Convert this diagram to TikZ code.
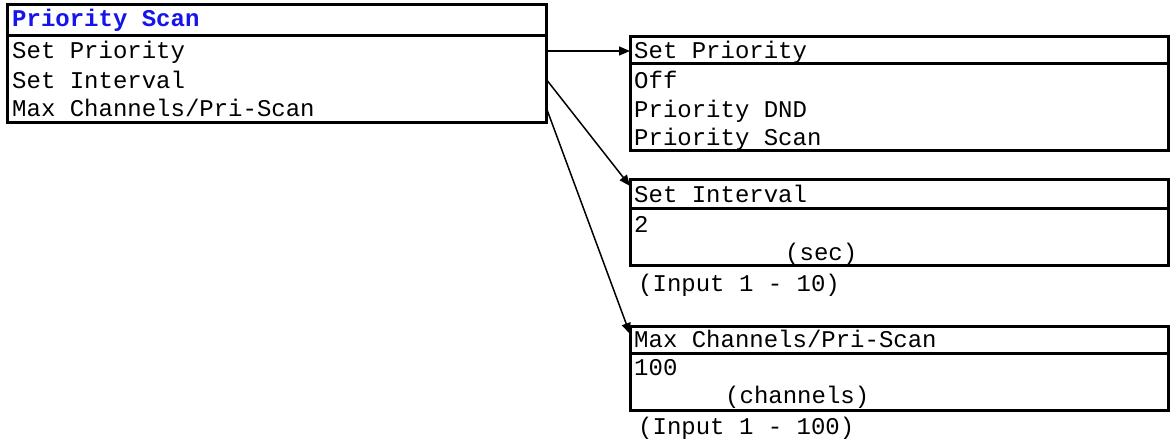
\documentclass[tikz,border=0pt]{standalone}
\usepackage{fontspec}
\newfontfamily\cour{Liberation Mono}
\usetikzlibrary{arrows.meta,calc}
\definecolor{titleblue}{RGB}{20,20,235}
\tikzset{
  box/.style={draw=black, line width=3pt, outer sep=0pt, inner sep=0pt, anchor=north west, fill=white},
  sep/.style={draw=black, line width=3pt},
  txt/.style={anchor=base west, inner sep=0pt, font=\cour\fontsize{24}{28}\selectfont},
  ttl/.style={txt, text=titleblue, font=\cour\bfseries\fontsize{24}{28}\selectfont},
  arr/.style={draw=black, line width=1.5pt, -{Triangle[length=11pt,width=9pt]}}
}
\begin{document}
\begin{tikzpicture}[x=1pt,y=-1pt]
\useasboundingbox (0,0) rectangle (1172,446);
% left menu box
\node[box, minimum width=539pt, minimum height=118pt] (L) at (7,5) {};
\draw[sep] (7,36) -- (546,36);
\node[ttl] (l0) at (12,27) {Priority Scan};
\node[txt] (l1) at (12,59) {Set Priority};
\node[txt] (l2) at (12,89) {Set Interval};
\node[txt] (l3) at (12,117) {Max Channels/Pri-Scan};
% box 1
\node[box, minimum width=538pt, minimum height=114pt] (B1) at (630,37) {};
\draw[sep] (630,64) -- (1168,64);
\node[txt] (b10) at (634,59) {Set Priority};
\node[txt] (b11) at (634,89) {Off};
\node[txt] (b12) at (634,118) {Priority DND};
\node[txt] (b13) at (634,146) {Priority Scan};
% box 2
\node[box, minimum width=538pt, minimum height=86pt] (B2) at (630,180) {};
\draw[sep] (630,209) -- (1168,209);
\node[txt] (b20) at (634,203) {Set Interval};
\node[txt] (b21) at (634,233) {2};
\node[txt] (b22) at (785,261) {(sec)};
\node[txt] (b23) at (638,291) {(Input 1 - 10)};
% box 3
\node[box, minimum width=538pt, minimum height=84pt] (B3) at (630,326) {};
\draw[sep] (630,353) -- (1168,353);
\node[txt] (b30) at (634,347) {Max Channels/Pri-Scan};
\node[txt] (b31) at (634,375) {100};
\node[txt] (b32) at (725,403) {(channels)};
\node[txt] (b33) at (638,434) {(Input 1 - 100)};
% connectors
\draw[arr] ($(L.north east)+(0,46)$) -- ($(B1.north west)+(0,14)$);
\draw[arr] ($(L.north east)+(0,74)$) -- ($(B2.north west)+(0,6)$);
\draw[arr] ($(L.north east)+(0,102)$) -- ($(B3.north west)+(0,8)$);
\end{tikzpicture}
\end{document}
